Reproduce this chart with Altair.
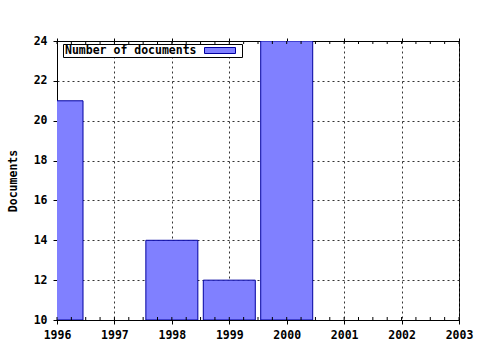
import altair as alt
import pandas as pd

# ---- data ----
years = [1996, 1998, 1999, 2000]
docs = [21, 14, 12, 24]
x_tick_values = [1996, 1997, 1998, 1999, 2000, 2001, 2002, 2003]
y_tick_values = [10, 12, 14, 16, 18, 20, 22, 24]
minor_x = [1996 + q / 4 for q in range(0, 29)]
legend_label = "Number of documents"
y_title = "Documents"

W, H = 402, 279
FONT = "DejaVu Sans Mono"
FS = 11.5

bars_df = pd.DataFrame({"year": years, "docs": docs})
minor_df = pd.DataFrame({"x": minor_x})
legend_df = pd.DataFrame({"label": [legend_label]})

xscale = alt.Scale(domain=[1996, 2003], nice=False, zero=False, padding=0)
yscale = alt.Scale(domain=[10, 24], nice=False, zero=False, padding=0)

bars = alt.Chart(bars_df).mark_bar(
    size=52, clip=True, fill="#8080ff", stroke="#0000a0", strokeWidth=1
).encode(
    x=alt.X("year:Q", scale=xscale, title=None,
            axis=alt.Axis(orient="bottom", values=x_tick_values, format="d",
                          grid=True, gridDash=[2, 3], gridColor="#333333",
                          gridOpacity=1, tickSize=4, tickColor="#000000",
                          domainColor="#000000", labelPadding=5,
                          labelFont=FONT, labelFontSize=FS, labelFontWeight="bold",
                          labelColor="#000000", labelFlush=False)),
    y=alt.Y("docs:Q", scale=yscale, title=y_title,
            axis=alt.Axis(values=y_tick_values, grid=True, gridDash=[2, 3],
                          gridColor="#333333", gridOpacity=1, tickSize=4,
                          tickColor="#000000", domainColor="#000000",
                          labelPadding=6, labelFont=FONT, labelFontSize=FS,
                          labelFontWeight="bold", labelColor="#000000",
                          titleFont=FONT, titleFontSize=FS, titleFontWeight="bold",
                          titleColor="#000000", titlePadding=15)),
    y2=alt.datum(10),
)

top_minor = alt.Chart(minor_df).mark_rule(color="#000000", strokeWidth=1).encode(
    x=alt.X("x:Q", scale=xscale, title=None,
            axis=alt.Axis(orient="top", values=x_tick_values, labels=False,
                          grid=False, tickSize=3, tickColor="#000000",
                          domainColor="#000000")),
    y=alt.value(0), y2=alt.value(3),
)

bottom_minor = alt.Chart(minor_df).mark_rule(color="#000000", strokeWidth=1).encode(
    x=alt.X("x:Q", scale=xscale, axis=None),
    y=alt.value(H - 3), y2=alt.value(H),
)

legend_box = alt.Chart(legend_df).mark_rect(
    fill="white", stroke="#000000", strokeWidth=1
).encode(x=alt.value(6.5), x2=alt.value(185.5), y=alt.value(3.5), y2=alt.value(16.5))

legend_text = alt.Chart(legend_df).mark_text(
    align="left", baseline="middle", font=FONT, fontSize=FS,
    fontWeight="bold", color="#000000"
).encode(x=alt.value(8), y=alt.value(10), text="label:N")

legend_swatch = alt.Chart(legend_df).mark_rect(
    fill="#8080ff", stroke="#0000a0", strokeWidth=1
).encode(x=alt.value(147.5), x2=alt.value(178.5), y=alt.value(6.5), y2=alt.value(12.5))

chart = alt.layer(
    bars, top_minor, bottom_minor, legend_box, legend_text, legend_swatch
).properties(
    width=W, height=H,
    autosize=alt.AutoSizeParams(type="none"),
    padding={"left": 57, "top": 41, "right": 21, "bottom": 30},
    background="white",
).configure_view(stroke="#000000", strokeWidth=1)

chart.save("out.html", embed_options={"renderer": "svg", "actions": False})
